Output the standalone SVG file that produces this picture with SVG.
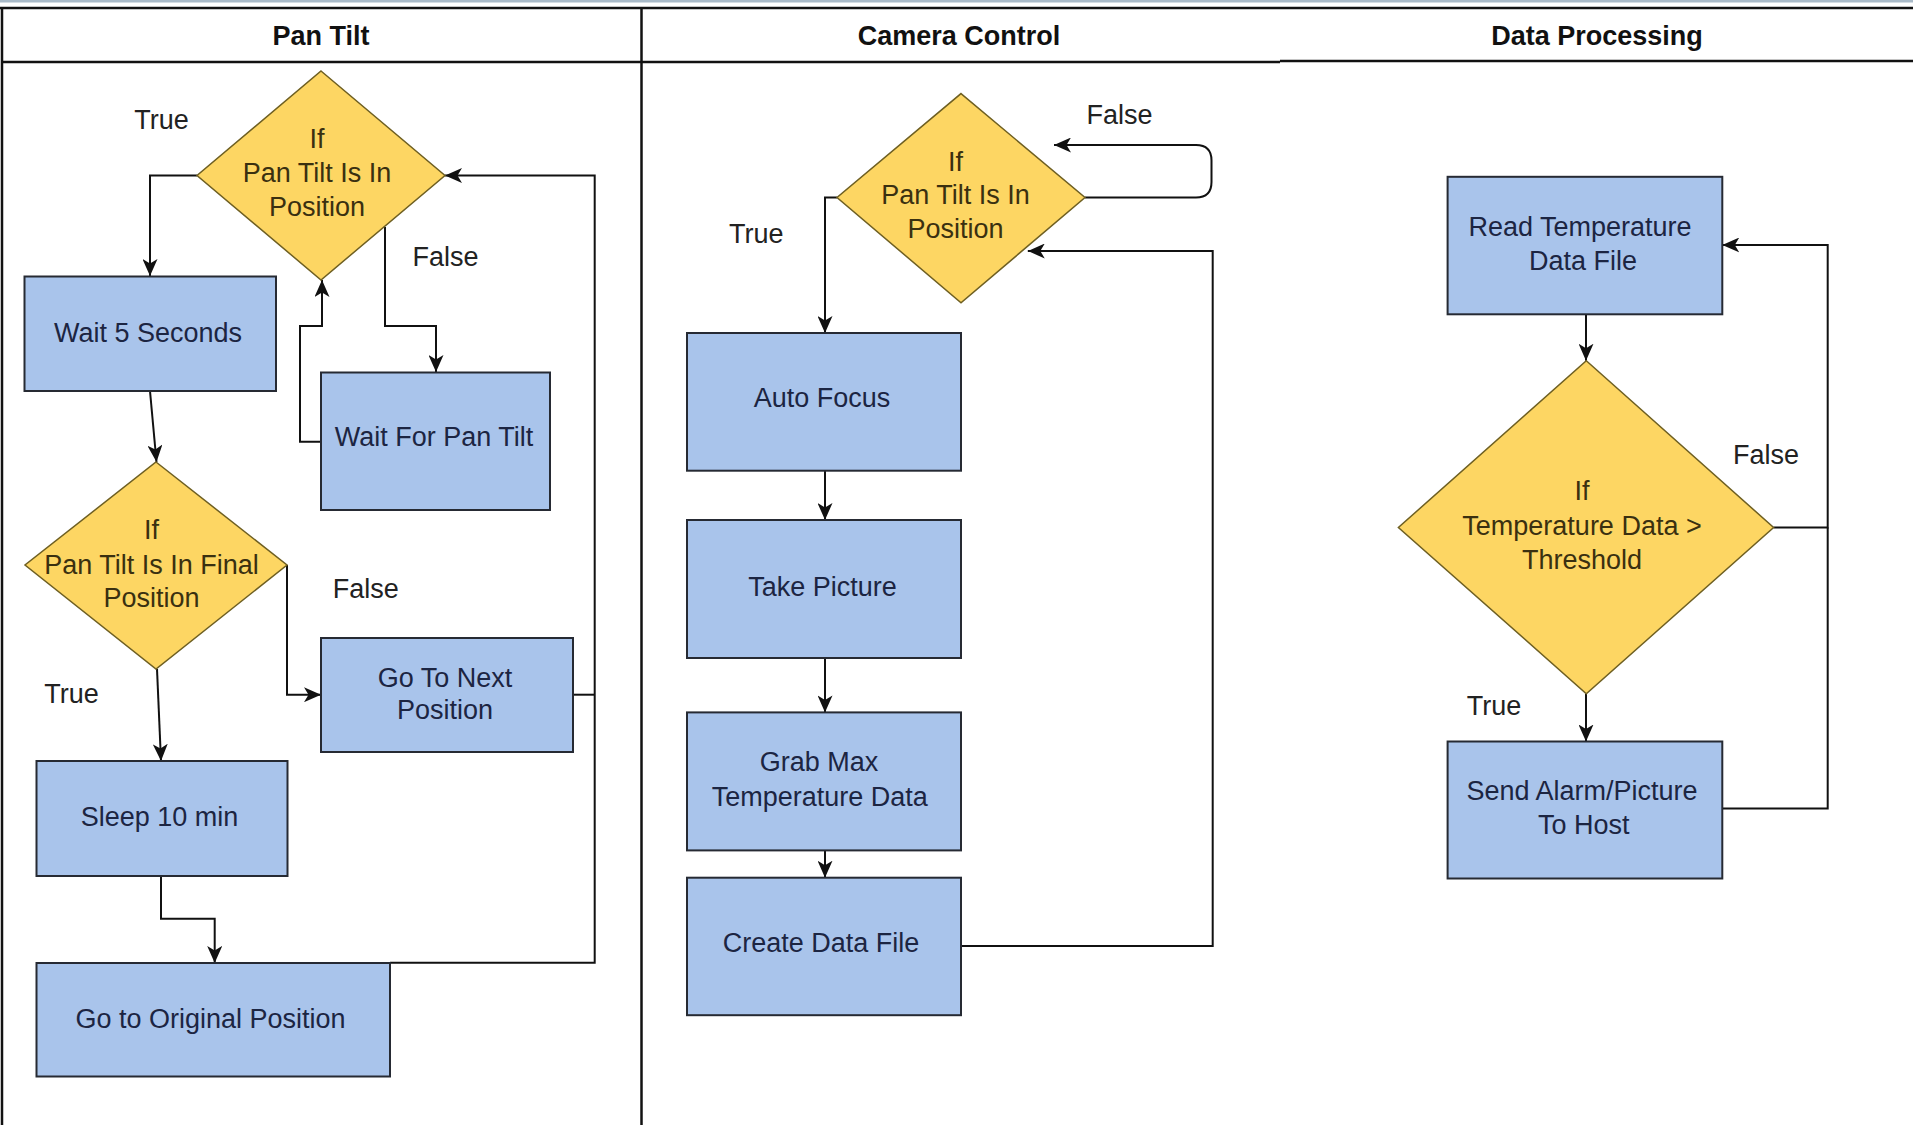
<svg xmlns="http://www.w3.org/2000/svg" width="1913" height="1125" viewBox="0 0 1913 1125">
<style>
  .frame { stroke: #111; stroke-width: 2.5; fill: none; }
  .box { fill: #A9C4EB; stroke: #262a33; stroke-width: 2; }
  .dia { fill: #FDD663; stroke: #6e5f22; stroke-width: 1.5; }
  .conn { fill: none; stroke: #111; stroke-width: 2; }
  text { font-family: "Liberation Sans", Arial, sans-serif; font-size: 27px; text-anchor: middle; }
  .hdr { font-weight: bold; font-size: 27px; fill: #111; }
  .bt { fill: #1c2542; }
  .dt { fill: #3a3010; }
  .lbl { fill: #222; }
</style>
<defs>
  <marker id="arr" markerUnits="userSpaceOnUse" markerWidth="17" markerHeight="15" refX="17" refY="7.5" orient="auto" viewBox="0 0 17 15">
    <path d="M0,0 L17,7.5 L0,15 L4.5,7.5 Z" fill="#111"/>
  </marker>
</defs>
<rect x="0" y="0" width="1913" height="1125" fill="#ffffff"/>
<rect x="0" y="0" width="1913" height="2.5" fill="#a9bac8"/>

<g id="frame">
  <path class="frame" d="M0,8 H1913"/>
  <path class="frame" d="M2,8 V1125"/>
  <path class="frame" d="M2,62 H1280"/>
  <path class="frame" d="M1280,61 H1913"/>
  <path class="frame" d="M641.5,8 V1125"/>
  <text class="hdr" x="321" y="44.5">Pan Tilt</text>
  <text class="hdr" x="959" y="44.5">Camera Control</text>
  <text class="hdr" x="1597" y="44.5">Data Processing</text>
</g>

<g id="connectors">
  <path class="conn" d="M197,175.5 H150 V276" marker-end="url(#arr)"/>
  <path class="conn" d="M385,227 V326 H436 V372" marker-end="url(#arr)"/>
  <path class="conn" d="M321,441.7 H300 V326 H322 V280" marker-end="url(#arr)"/>
  <path class="conn" d="M150,391 L156.5,462" marker-end="url(#arr)"/>
  <path class="conn" d="M287,565 V694.7 H321" marker-end="url(#arr)"/>
  <path class="conn" d="M157,669 L161,761" marker-end="url(#arr)"/>
  <path class="conn" d="M161,876 V918.7 H214.7 V963" marker-end="url(#arr)"/>
  <path class="conn" d="M390,962.7 H594.7 V175.5 H445" marker-end="url(#arr)"/>
  <path class="conn" d="M573,694.7 H594.7"/>

  <path class="conn" d="M837,197.5 H825 V333" marker-end="url(#arr)"/>
  <path class="conn" d="M1085,197.5 H1196 Q1211.5,197.5 1211.5,182 V160.5 Q1211.5,145 1196,145 H1054" marker-end="url(#arr)"/>
  <path class="conn" d="M825,470.7 V520" marker-end="url(#arr)"/>
  <path class="conn" d="M825,658 V712.4" marker-end="url(#arr)"/>
  <path class="conn" d="M825,850.4 V877.7" marker-end="url(#arr)"/>
  <path class="conn" d="M961,946 H1212.7 V251 H1027.8" marker-end="url(#arr)"/>

  <path class="conn" d="M1586,314.3 V360.7" marker-end="url(#arr)"/>
  <path class="conn" d="M1586,693.7 V741.5" marker-end="url(#arr)"/>
  <path class="conn" d="M1773.6,527.5 H1827.7 V245 H1722.3" marker-end="url(#arr)"/>
  <path class="conn" d="M1722.3,808.6 H1827.7 V527.5"/>

  <text class="lbl" x="161.5" y="129">True</text>
  <text class="lbl" x="445.5" y="266">False</text>
  <text class="lbl" x="365.7" y="598">False</text>
  <text class="lbl" x="71.5" y="703">True</text>
  <text class="lbl" x="756.3" y="242.5">True</text>
  <text class="lbl" x="1119.6" y="124">False</text>
  <text class="lbl" x="1766" y="464">False</text>
  <text class="lbl" x="1494" y="715">True</text>
</g>

<g id="d1">
  <polygon class="dia" points="321,71 445,175.5 321,280 197,175.5"/>
  <text class="dt" x="317" y="148">If</text>
  <text class="dt" x="317" y="182">Pan Tilt Is In</text>
  <text class="dt" x="317" y="216">Position</text>
</g>
<g id="wait5">
  <rect class="box" x="24.5" y="276.5" width="251.5" height="114.5"/>
  <text class="bt" x="148" y="342">Wait 5 Seconds</text>
</g>
<g id="waitpt">
  <rect class="box" x="321" y="372.5" width="229" height="137.5"/>
  <text class="bt" x="434" y="446">Wait For Pan Tilt</text>
</g>
<g id="d2">
  <polygon class="dia" points="156,462 287,565 156,669 25,565"/>
  <text class="dt" x="151.5" y="539">If</text>
  <text class="dt" x="151.5" y="573.5">Pan Tilt Is In Final</text>
  <text class="dt" x="151.5" y="607">Position</text>
</g>
<g id="gonext">
  <rect class="box" x="321" y="638" width="252" height="114"/>
  <text class="bt" x="445" y="687">Go To Next</text>
  <text class="bt" x="445" y="719">Position</text>
</g>
<g id="sleep">
  <rect class="box" x="36.5" y="761" width="251" height="115"/>
  <text class="bt" x="159.5" y="826">Sleep 10 min</text>
</g>
<g id="goorig">
  <rect class="box" x="36.5" y="963" width="353.5" height="113.5"/>
  <text class="bt" x="210.5" y="1028">Go to Original Position</text>
</g>

<g id="d3">
  <polygon class="dia" points="961,93.6 1085,197.5 961,302.8 837,197.5"/>
  <text class="dt" x="955.5" y="170.5">If</text>
  <text class="dt" x="955.5" y="204">Pan Tilt Is In</text>
  <text class="dt" x="955.5" y="237.5">Position</text>
</g>
<g id="autofocus">
  <rect class="box" x="687" y="333" width="274" height="137.7"/>
  <text class="bt" x="822" y="407">Auto Focus</text>
</g>
<g id="takepicture">
  <rect class="box" x="687" y="520" width="274" height="138"/>
  <text class="bt" x="822.5" y="595.5">Take Picture</text>
</g>
<g id="grabmax">
  <rect class="box" x="687" y="712.4" width="274" height="138"/>
  <text class="bt" x="819" y="771">Grab Max</text>
  <text class="bt" x="819.8" y="805.5">Temperature Data</text>
</g>
<g id="createfile">
  <rect class="box" x="687" y="877.7" width="274" height="137.5"/>
  <text class="bt" x="821" y="952">Create Data File</text>
</g>

<g id="readtemp">
  <rect class="box" x="1447.6" y="176.8" width="274.7" height="137.5"/>
  <text class="bt" x="1580" y="235.5">Read Temperature</text>
  <text class="bt" x="1583" y="269.5">Data File</text>
</g>
<g id="d4">
  <polygon class="dia" points="1586.3,360.7 1773.6,527.5 1586.3,693.7 1398.4,527.5"/>
  <text class="dt" x="1582" y="500">If</text>
  <text class="dt" x="1582" y="534.5">Temperature Data &gt;</text>
  <text class="dt" x="1582" y="569">Threshold</text>
</g>
<g id="sendalarm">
  <rect class="box" x="1447.6" y="741.5" width="274.7" height="137"/>
  <text class="bt" x="1582" y="800">Send Alarm/Picture</text>
  <text class="bt" x="1583.8" y="833.5">To Host</text>
</g>
</svg>
